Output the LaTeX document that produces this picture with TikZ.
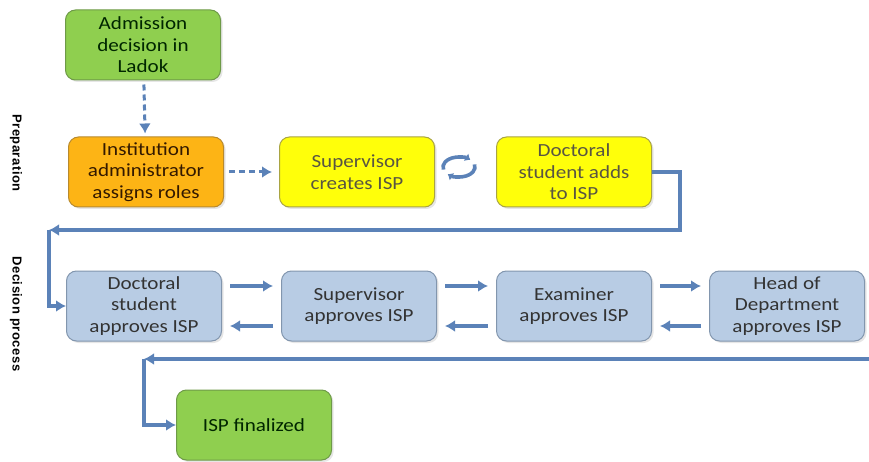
\documentclass[tikz,border=0pt]{standalone}
\usepackage{fontspec}
\setmainfont{Carlito}[FakeStretch=1.14]
\newfontfamily\sidefont{Liberation Sans}[LetterSpace=4]
\usetikzlibrary{arrows.meta, shadows}

\definecolor{admgreen}{HTML}{8FCF4F}
\definecolor{admgreenline}{HTML}{6E9A48}
\definecolor{instorange}{HTML}{FDB415}
\definecolor{instorangeline}{HTML}{B88A2E}
\definecolor{ispyellow}{HTML}{FFFF0A}
\definecolor{ispyellowline}{HTML}{A9A443}
\definecolor{apprblue}{HTML}{B8CCE4}
\definecolor{apprblueline}{HTML}{8296AE}
\definecolor{flowblue}{HTML}{5B82B8}

\tikzset{
  box/.style={rounded corners=10pt, minimum width=155pt, minimum height=70pt,
              align=center, line width=1pt,
              font=\fontsize{18.5}{21.5}\selectfont,
              drop shadow={opacity=0.2, shadow xshift=2pt, shadow yshift=-2pt}},
  greenbox/.style={box, fill=admgreen, draw=admgreenline, text=black!75!green!60!black},
  orangebox/.style={box, fill=instorange, draw=instorangeline, text=black!80!orange},
  yellowbox/.style={box, fill=ispyellow, draw=ispyellowline, text=black!75!yellow},
  bluebox/.style={box, fill=apprblue, draw=apprblueline, text=black!80},
  flow/.style={draw=flowblue, line width=3.4pt, -{Latex[length=10pt, width=12pt]}},
  dashflow/.style={flow, line width=3pt, dash pattern=on 6pt off 4pt},
  sidelabel/.style={rotate=-90, font=\sidefont\bfseries\fontsize{13}{15}\selectfont}
}

\begin{document}
\begin{tikzpicture}[x=1pt, y=-1pt]
\useasboundingbox (0,0) rectangle (869,462);
        % Phase labels
        \node[sidelabel] at (16,153) (prep) {Preparation};
        \node[sidelabel] at (16,314) (dec)  {Decision process};
        % Preparation boxes
        \node[greenbox]  at (143,45)  (adm)   {Admission\\decision in\\Ladok};
        \node[orangebox] at (146,172) (inst)  {Institution\\administrator\\assigns roles};
        \node[yellowbox] at (357,172) (supc)  {Supervisor\\creates ISP};
        \node[yellowbox] at (574,172) (dsadd) {Doctoral\\student adds\\to ISP};
        % Decision boxes
        \node[bluebox]   at (144,306) (dsapp)  {Doctoral\\student\\approves ISP};
        \node[bluebox]   at (359,306) (supapp) {Supervisor\\approves ISP};
        \node[bluebox]   at (574,306) (exam)   {Examiner\\approves ISP};
        \node[bluebox]   at (787,306) (head)   {Head of\\Department\\approves ISP};
        \node[greenbox]  at (254,425) (fin)    {ISP finalized};
        % Turning points of the long connectors
        \coordinate (turnA)   at (680,230);
        \coordinate (cornerA) at (49,230);
        \coordinate (rightB)  at (869,359);
        \coordinate (cornerB) at (144,359);
        \coordinate (cyc)     at (459,167);
        % Dashed start
        \draw[dashflow, shorten <=4pt, shorten >=3pt] (adm) -- (inst);
        \draw[dashflow, shorten <=5pt, shorten >=7pt] (inst) -- (supc);
        % Back and forth between supervisor and student
        \draw[flow, line width=3.6pt, -{Latex[length=5pt, width=9pt]}]
            ([shift={(195:16pt and 10pt)}]cyc) arc[start angle=195, end angle=45, x radius=16pt, y radius=10pt];
        \draw[flow, line width=3.6pt, -{Latex[length=5pt, width=9pt]}]
            ([shift={(15:16pt and 10pt)}]cyc) arc[start angle=15, end angle=-135, x radius=16pt, y radius=10pt];
        % To the decision process
        \draw[flow] (dsadd.east) -| (turnA) -- (cornerA);
        \draw[flow] (cornerA) |- (dsapp.west);
        % Approvals forward and back
        \foreach \a/\b in {dsapp/supapp, supapp/exam, exam/head} {
            \draw[flow] ([xshift=8pt, yshift=20pt]\a.east) -- ([xshift=-8pt, yshift=20pt]\b.west);
            \draw[flow] ([xshift=-8pt, yshift=-20pt]\b.west) -- ([xshift=8pt, yshift=-20pt]\a.east);
        }
        % Final step
        \draw[flow] (rightB) -- (cornerB);
        \draw[flow] (cornerB) |- (fin.west);
\end{tikzpicture}
\end{document}
